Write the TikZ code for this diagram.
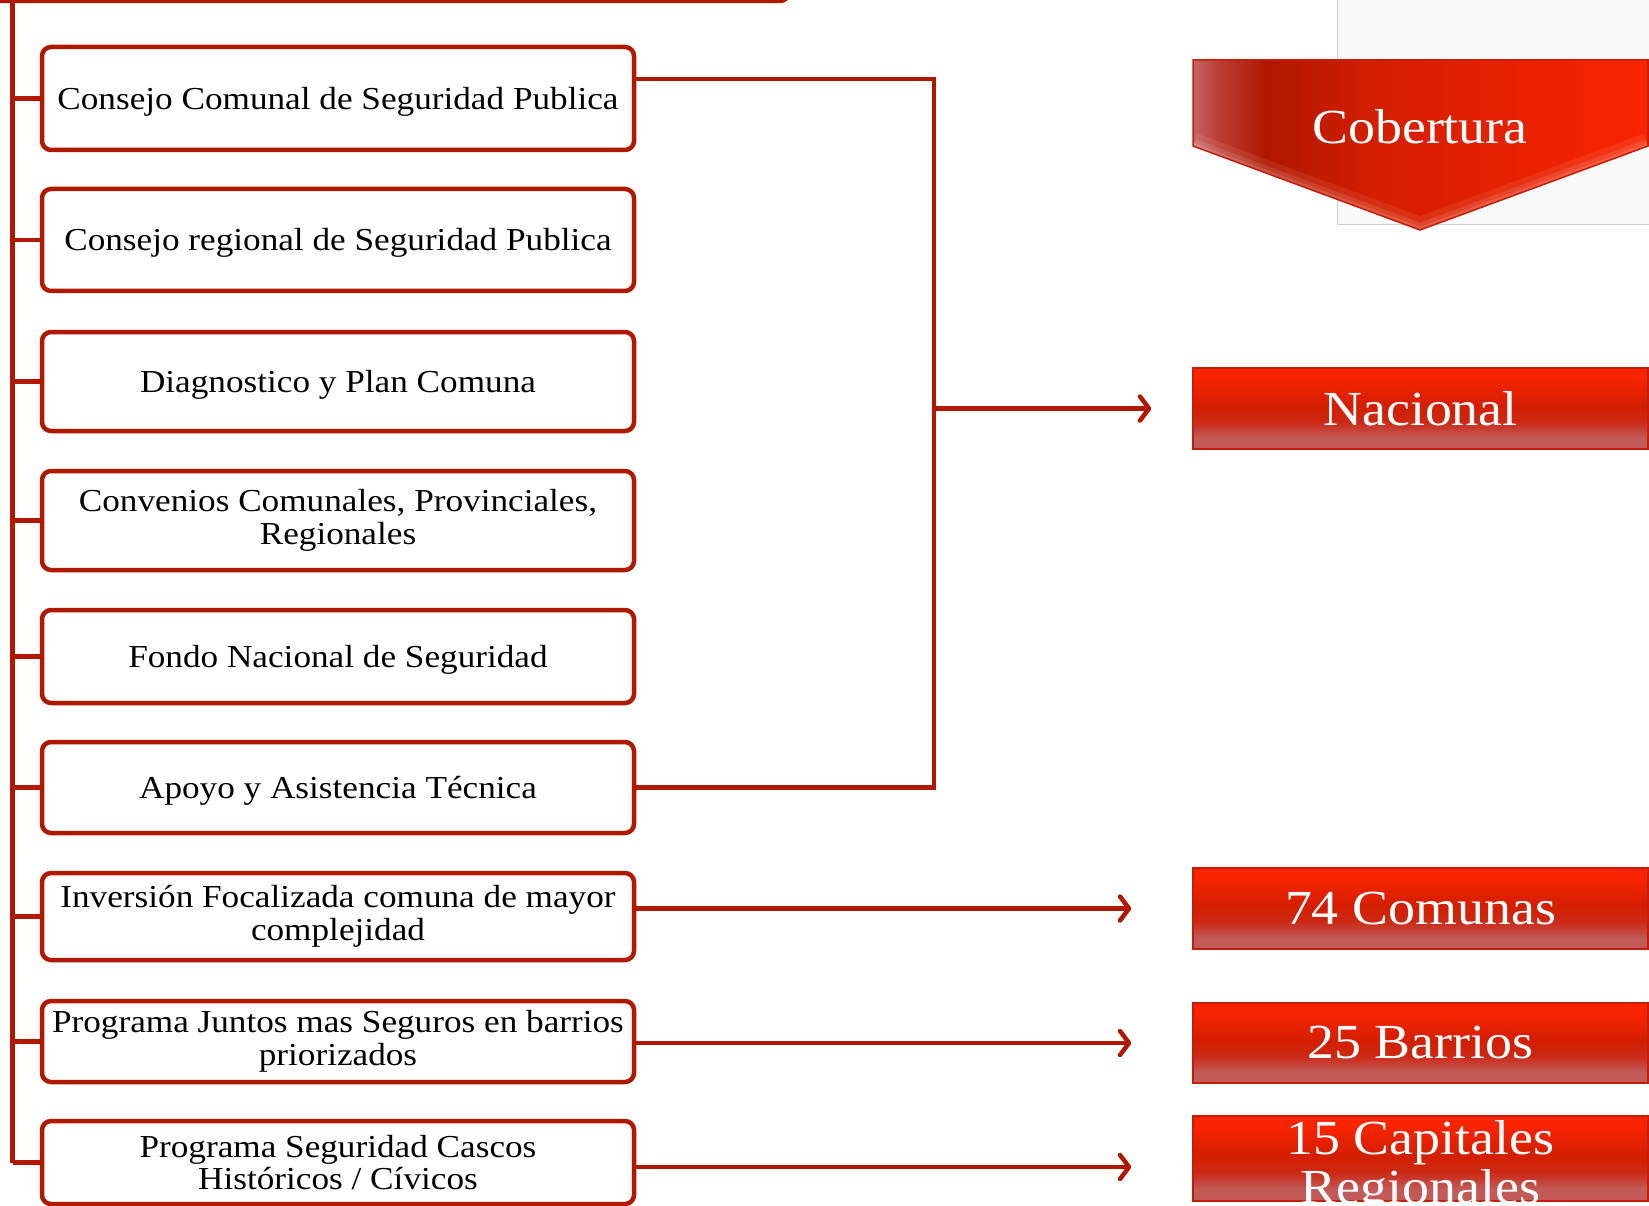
\documentclass[tikz,border=0pt]{standalone}
\usepackage{fontspec}
\setmainfont[FakeStretch=1.1]{Liberation Serif}
\usetikzlibrary{arrows.meta}
\definecolor{dred}{RGB}{176,24,0}
\definecolor{rtop}{RGB}{248,36,0}
\definecolor{rmid}{RGB}{212,30,0}
\definecolor{rlow}{RGB}{204,40,20}
\definecolor{rbot}{RGB}{194,90,88}
\definecolor{rline}{RGB}{196,30,10}
\definecolor{cleft}{RGB}{176,22,0}
\definecolor{cright}{RGB}{250,36,0}
\definecolor{cedge}{RGB}{196,100,100}
\definecolor{cmid}{RGB}{186,60,50}
\pgfdeclareverticalshading{redbox}{100bp}{color(0bp)=(rbot); color(25bp)=(rbot); color(32bp)=(rbot); color(42bp)=(rlow); color(52bp)=(rmid); color(69bp)=(rtop); color(75bp)=(rtop); color(100bp)=(rtop)}
\pgfdeclarehorizontalshading{cobshade}{100bp}{color(0bp)=(cedge); color(25bp)=(cedge); color(28bp)=(cmid); color(33bp)=(cleft); color(45bp)=(rmid); color(75bp)=(cright); color(100bp)=(cright)}
\tikzset{
  box/.style={draw=dred, line width=4.5pt, rounded corners=9pt, fill=white,
    minimum width=592pt, align=center, inner sep=0pt,
    font=\fontsize{32}{32.6}\selectfont,
    execute at begin node={\rule{0pt}{28pt}}},
  redbox/.style={shading=redbox, draw=rline, line width=1.5pt,
    minimum width=455pt, inner sep=0pt},
  redtext/.style={text=white, align=center, inner sep=0pt,
    font=\fontsize{49}{49.4}\selectfont},
  conn/.style={draw=dred, line width=4.5pt},
  arr/.style={draw=dred, line width=4.5pt, line cap=round,
    -{Straight Barb[length=9pt,width=24pt,line cap=round,line join=round]}}
}
\begin{document}
\begin{tikzpicture}[x=1pt,y=-1pt]
\useasboundingbox (0,0) rectangle (1649,1206);
% background grey panel
\draw[draw=black!18, fill=black!2, line width=1pt] (1337,-5) rectangle (1655,225);
% top partial box
\draw[conn, rounded corners=9pt] (-20,-60) rectangle (789,1);
% trunk
\coordinate (ttop) at (12.5,0);
\coordinate (tbot) at (12.5,1162.5);
\draw[conn] (ttop) -- (tbot);
% boxes
\node[box, minimum height=103pt] (b1) at (338,98.5) {Consejo Comunal de Seguridad Publica};
\node[box, minimum height=102pt] (b2) at (338,240) {Consejo regional de Seguridad Publica};
\node[box, minimum height=99pt] (b3) at (338,381.5) {Diagnostico y Plan Comuna};
\node[box, minimum height=99pt] (b4) at (338,520.5) {Convenios Comunales, Provinciales,\\Regionales};
\node[box, minimum height=93pt] (b5) at (338,656.5) {Fondo Nacional de Seguridad};
\node[box, minimum height=91pt] (b6) at (338,787.5) {Apoyo y Asistencia Técnica};
\node[box, minimum height=87pt] (b7) at (338,916.5) {Inversión Focalizada comuna de mayor\\complejidad};
\node[box, minimum height=81pt] (b8) at (338,1041.5) {Programa Juntos mas Seguros en barrios\\priorizados};
\node[box, minimum height=83pt] (b9) at (338,1162.5) {Programa Seguridad Cascos\\Históricos / Cívicos};
% stubs
\foreach \b in {b1,b2,b3,b4,b5,b6,b7,b8,b9}
  \draw[conn] (\b.west) -- (\b.west -| ttop);
% Cobertura chevron
\shade[shading=cobshade] (1193,60) -- (1648,60) -- (1648,146) -- (1420,230) -- (1193,146) -- cycle;
\begin{scope}
  \clip (1193,60) -- (1648,60) -- (1648,146) -- (1420,230) -- (1193,146) -- cycle;
  \draw[white, opacity=0.08, line width=26pt] (1193,146) -- (1420,230) -- (1648,146);
  \draw[white, opacity=0.10, line width=14pt] (1193,146) -- (1420,230) -- (1648,146);
  \draw[white, opacity=0.12, line width=6pt] (1193,146) -- (1420,230) -- (1648,146);
\end{scope}
\draw[rline, line width=1.5pt, line join=miter] (1193,60) -- (1648,60) -- (1648,146) -- (1420,230) -- (1193,146) -- cycle;
\node[redtext] (cob) at (1420,127) {Cobertura};
% red boxes
\node[redbox, minimum height=81pt] (nac) at (1420.5,408.5) {};
\node[redtext] at (nac) {Nacional};
\node[redbox, minimum height=81pt] (com) at (1420.5,908.5) {};
\node[redtext] at (com) {74 Comunas};
\node[redbox, minimum height=80pt] (bar) at (1420.5,1043) {};
\node[redtext] at (bar) {25 Barrios};
\node[redbox, minimum height=85pt] (cap) at (1420.5,1158.5) {};
\begin{scope}
  \clip (cap.south west) rectangle (cap.north east);
  \node[redtext] at ([yshift=-9pt]cap.center) {15 Capitales\\Regionales};
\end{scope}
% bracket
\coordinate (brtop) at (934,79);
\coordinate (brbot) at (934,787.5);
\draw[conn, line join=miter] (b1.east |- brtop) -- (brtop) -- (brbot) -- (b6.east);
\draw[arr] (brtop |- nac.west) -- ([xshift=-41pt]nac.west);
% arrows
\draw[arr] (b7.east |- com.west) -- ([xshift=-61pt]com.west);
\draw[arr] (b8.east |- bar.west) -- ([xshift=-61pt]bar.west);
\draw[arr] ([yshift=-8.5pt]b9.east |- cap.west) -- ([xshift=-61pt,yshift=-8.5pt]cap.west);
\end{tikzpicture}
\end{document}
